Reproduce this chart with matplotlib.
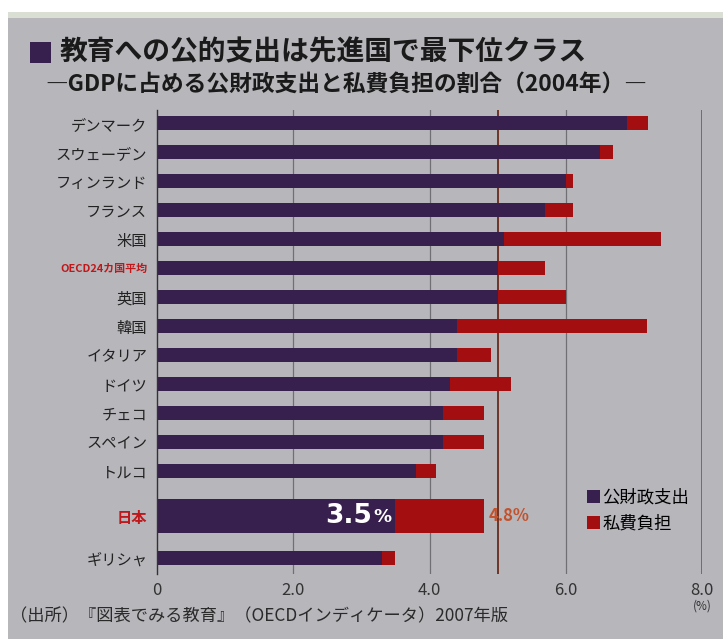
import numpy as np
import matplotlib.pyplot as plt
from matplotlib.patches import Rectangle

plt.rcParams['font.family'] = ['Noto Sans CJK JP', 'DejaVu Sans']

countries = ['デンマーク', 'スウェーデン', 'フィンランド', 'フランス', '米国',
             'OECD24カ国平均', '英国', '韓国', 'イタリア', 'ドイツ', 'チェコ',
             'スペイン', 'トルコ', '日本', 'ギリシャ']
# GDP比 (%)
public = [6.9, 6.5, 6.0, 5.7, 5.1, 5.0, 5.0, 4.4, 4.4, 4.3, 4.2, 4.2, 3.8, 3.5, 3.3]
private = [0.3, 0.2, 0.1, 0.4, 2.3, 0.7, 1.0, 2.8, 0.5, 0.9, 0.6, 0.6, 0.3, 1.3, 0.2]
xticks = [0, 2.0, 4.0, 6.0, 8.0]
xtick_labels = ['0', '2.0', '4.0', '6.0', '8.0']

PURPLE = '#38204e'
RED = '#a30f10'
BG = '#b6b6bb'

W, H = 723, 639
fig = plt.figure(figsize=(W / 100, H / 100), dpi=100)
fig.patch.set_facecolor('white')
# paper background
fig.patches.append(Rectangle((8 / W, 0), 1, 1 - 18 / H, transform=fig.transFigure,
                             facecolor=BG, edgecolor='none', zorder=-10))
fig.patches.append(Rectangle((8 / W, 1 - 18 / H), 1, 6 / H, transform=fig.transFigure,
                             facecolor='#d9e0d3', edgecolor='none', zorder=-10))

ax = fig.add_axes([157 / W, 1 - 574 / H, (702 - 157) / W, (574 - 110) / H])
ax.set_facecolor('none')

jp = countries.index('日本')
oecd = countries.index('OECD24カ国平均')
ypos = np.array(list(range(13)) + [13.55, 15.0])
heights = [1.2 if i == jp else 0.48 for i in range(len(countries))]

for x in [2.0, 4.0, 6.0]:
    ax.axvline(x, color='#707074', lw=0.9, zorder=1)
ax.axvline(8.0, color='#5a5a5e', lw=1.1, zorder=1)
ax.axvline(public[oecd], color='#6e3526', lw=1.4, zorder=1)

ax.barh(ypos, public, height=heights, color=PURPLE, zorder=2, label='公財政支出')
ax.barh(ypos, private, left=public, height=heights, color=RED, zorder=2, label='私費負担')

ax.set_xlim(0, 8.0)
ax.set_ylim(15.55, -0.45)
ax.set_yticks(ypos)
ax.set_yticklabels(countries, fontsize=11, color='#222222')
for i, t in enumerate(ax.get_yticklabels()):
    if i in (jp, oecd):
        t.set_color('#c0181a')
        t.set_fontweight('bold')
    if i == oecd:
        t.set_fontsize(7.9)
ax.set_xticks(xticks)
ax.set_xticklabels(xtick_labels, fontsize=12, color='#333333')
ax.tick_params(axis='both', length=0)
ax.tick_params(axis='x', pad=6)
ax.tick_params(axis='y', pad=7)
for s in ['top', 'right', 'bottom']:
    ax.spines[s].set_visible(False)
ax.spines['left'].set_color('#333333')
ax.spines['left'].set_linewidth(1.0)

# 日本の値
ax.annotate(f'{public[jp]}', (public[jp], ypos[jp]), xytext=(-17, 0),
            textcoords='offset points', color='white', fontsize=19,
            fontweight='bold', ha='right', va='center', zorder=3,
            family=['DejaVu Sans'])
ax.annotate('%', (public[jp], ypos[jp]), xytext=(-3, -1), textcoords='offset points',
            color='white', fontsize=13, fontweight='bold', ha='right', va='center',
            zorder=3, family=['DejaVu Sans'])
total_jp = public[jp] + private[jp]
ax.text(total_jp + 0.07, ypos[jp], f'{total_jp:.1f}%', color='#c3522c', fontsize=12,
        fontweight='bold', ha='left', va='center', zorder=3)

ax.annotate('(%)', (1.0, 0.0), xycoords='axes fraction', xytext=(0, -23),
            textcoords='offset points', ha='center', va='center',
            fontsize=8.5, color='#333333')

# 凡例
leg = ax.legend(loc='lower right', bbox_to_anchor=(1.005, 0.055), frameon=False,
                fontsize=12.5, handlelength=0.8, handleheight=0.8,
                handletextpad=0.1, labelspacing=0.5)

fig.patches.append(Rectangle((30 / W, 1 - 63 / H), 21 / W, 21 / H, transform=fig.transFigure,
                             facecolor=PURPLE, edgecolor='none', zorder=1))
fig.text(60 / W, 1 - 52 / H, '教育への公的支出は先進国で最下位クラス', fontsize=20,
         fontweight='bold', color='#1a1a1a', ha='left', va='center')
fig.text(45 / W, 1 - 84 / H, '―GDPに占める公財政支出と私費負担の割合（2004年）―',
         fontsize=16.4, fontweight='bold', color='#1a1a1a', ha='left', va='center')
fig.text(10 / W, 1 - 616 / H, '（出所）『図表でみる教育』（OECDインディケータ）2007年版',
         fontsize=12.4, color='#2a2a2a', ha='left', va='center')

fig.savefig('out.png', dpi=100)
